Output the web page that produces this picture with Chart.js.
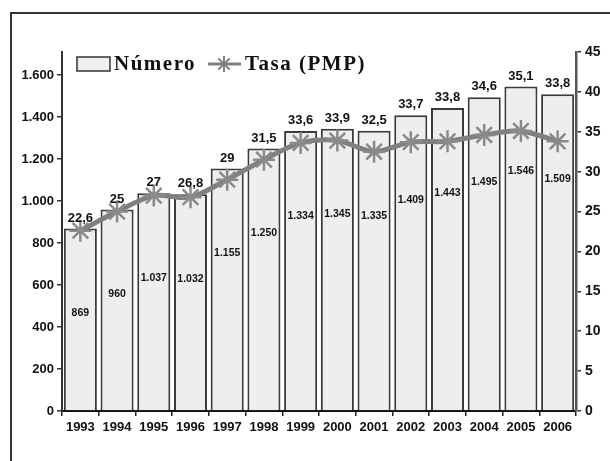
<!DOCTYPE html>
<html>
<head>
<meta charset="utf-8">
<script src="https://cdn.jsdelivr.net/npm/chart.js@4.4.0/dist/chart.umd.min.js"></script>
<style>
  html, body { margin: 0; padding: 0; background: #fff; }
  #wrap { position: relative; width: 610px; height: 461px; overflow: hidden; }
  #frame { position: absolute; left: 10px; top: 12px; width: 640px; height: 500px; border: 2px solid #333; }
  canvas { position: absolute; left: 0; top: 0; }
</style>
</head>
<body>
<div id="wrap">
  <div id="frame"></div>
  <canvas id="chart" width="610" height="461"></canvas>
</div>
<script>
// data
const years = ["1993", "1994", "1995", "1996", "1997", "1998", "1999", "2000", "2001", "2002", "2003", "2004", "2005", "2006"];
const numero = [869, 960, 1037, 1032, 1155, 1250, 1334, 1345, 1335, 1409, 1443, 1495, 1546, 1509];
const tasa = [22.6, 25, 27, 26.8, 29, 31.5, 33.6, 33.9, 32.5, 33.7, 33.8, 34.6, 35.1, 33.8];

const leftTicks = [0, 200, 400, 600, 800, 1000, 1200, 1400, 1600];
const rightTicks = [0, 5, 10, 15, 20, 25, 30, 35, 40, 45];

const fmtThousands = v => v >= 1000 ? Math.floor(v / 1000) + "." + String(v % 1000).padStart(3, "0") : String(v);
const fmtComma = v => String(v).replace(".", ",");

const SANS = "'Liberation Sans', Arial, sans-serif";

// value labels + legend drawn inside the plot
const labelsPlugin = {
    id: "labels",
    afterDatasetsDraw(chart) {
        const ctx = chart.ctx;
        const bars = chart.getDatasetMeta(0).data;
        ctx.save();
        ctx.fillStyle = "#111";
        ctx.textAlign = "center";
        bars.forEach((bar, i) => {
            ctx.font = "bold 13px " + SANS;
            ctx.textBaseline = "bottom";
            ctx.fillText(fmtComma(tasa[i]), bar.x, bar.y - 4);
            ctx.font = "bold 10.5px " + SANS;
            ctx.textBaseline = "middle";
            ctx.fillText(fmtThousands(numero[i]), bar.x, bar.y + 85);
        });

        // legend
        ctx.fillStyle = "#eeeeee";
        ctx.strokeStyle = "#333";
        ctx.lineWidth = 1.5;
        ctx.fillRect(77, 57, 33, 14);
        ctx.strokeRect(77, 57, 33, 14);
        ctx.fillStyle = "#111";
        ctx.textAlign = "left";
        ctx.textBaseline = "middle";
        ctx.font = "bold 21px 'Liberation Serif', 'Times New Roman', serif";
        ctx.letterSpacing = "1.5px";
        ctx.fillText(chart.data.datasets[0].label, 114, 65);
        ctx.strokeStyle = "#808080";
        ctx.lineWidth = 3;
        ctx.beginPath();
        ctx.moveTo(208, 64);
        ctx.lineTo(241, 64);
        ctx.stroke();
        ctx.lineWidth = 2;
        const cx = 224, cy = 64, r = 8;
        ctx.beginPath();
        for (let k = 0; k < 4; k++) {
            const a = k * Math.PI / 4;
            ctx.moveTo(cx - r * Math.cos(a), cy - r * Math.sin(a));
            ctx.lineTo(cx + r * Math.cos(a), cy + r * Math.sin(a));
        }
        ctx.stroke();
        ctx.fillText(chart.data.datasets[1].label, 245, 65);
        ctx.restore();
    }
};

new Chart(document.getElementById("chart"), {
    type: "bar",
    data: {
        labels: years,
        datasets: [{
            label: "Número",
            data: numero,
            yAxisID: "y",
            backgroundColor: "#eeeeee",
            borderColor: "#3a3a3a",
            borderWidth: 2,
            barPercentage: 0.9,
            categoryPercentage: 1,
            order: 2,
        }, {
            type: "line",
            label: "Tasa (PMP)",
            data: tasa,
            yAxisID: "y1",
            borderColor: "#808080",
            borderWidth: 5,
            tension: 0.3,
            pointStyle: "star",
            pointRadius: 11,
            pointBorderWidth: 2.5,
            pointBorderColor: "#8a8a8a",
            pointBackgroundColor: "#8a8a8a",
            order: 1,
        }],
    },
    options: {
        responsive: false,
        animation: false,
        layout: {padding: {top: 52, left: 0, right: 0, bottom: 0}},
        plugins: {
            legend: {display: false},
            tooltip: {enabled: false},
        },
        scales: {
            x: {
                afterFit: s => { s.height = 50; },
                grid: {display: true, drawOnChartArea: false, tickLength: 5, color: "#222", lineWidth: 1.5},
                border: {display: true, color: "#111", width: 2},
                ticks: {font: {family: SANS, size: 13, weight: "bold"}, color: "#111", padding: 4, maxRotation: 0},
            },
            y: {
                position: "left",
                min: 0,
                max: 1710,
                afterFit: s => { s.width = 62; },
                afterBuildTicks: s => { s.ticks = leftTicks.map(v => ({value: v})); },
                grid: {display: true, drawOnChartArea: false, tickLength: 5, color: "#333", lineWidth: 1.5},
                border: {display: true, color: "#333", width: 2},
                ticks: {font: {family: SANS, size: 13, weight: "bold"}, color: "#111", padding: 3,
                    callback: v => fmtThousands(v)},
            },
            y1: {
                position: "right",
                min: 0,
                max: 45,
                afterFit: s => { s.width = 34; },
                afterBuildTicks: s => { s.ticks = rightTicks.map(v => ({value: v})); },
                grid: {display: true, drawOnChartArea: false, tickLength: 5, color: "#333", lineWidth: 1.5},
                border: {display: true, color: "#555", width: 2.5},
                ticks: {font: {family: SANS, size: 14, weight: "bold"}, color: "#111", padding: 4},
            },
        },
    },
    plugins: [labelsPlugin],
});
</script>
</body>
</html>
